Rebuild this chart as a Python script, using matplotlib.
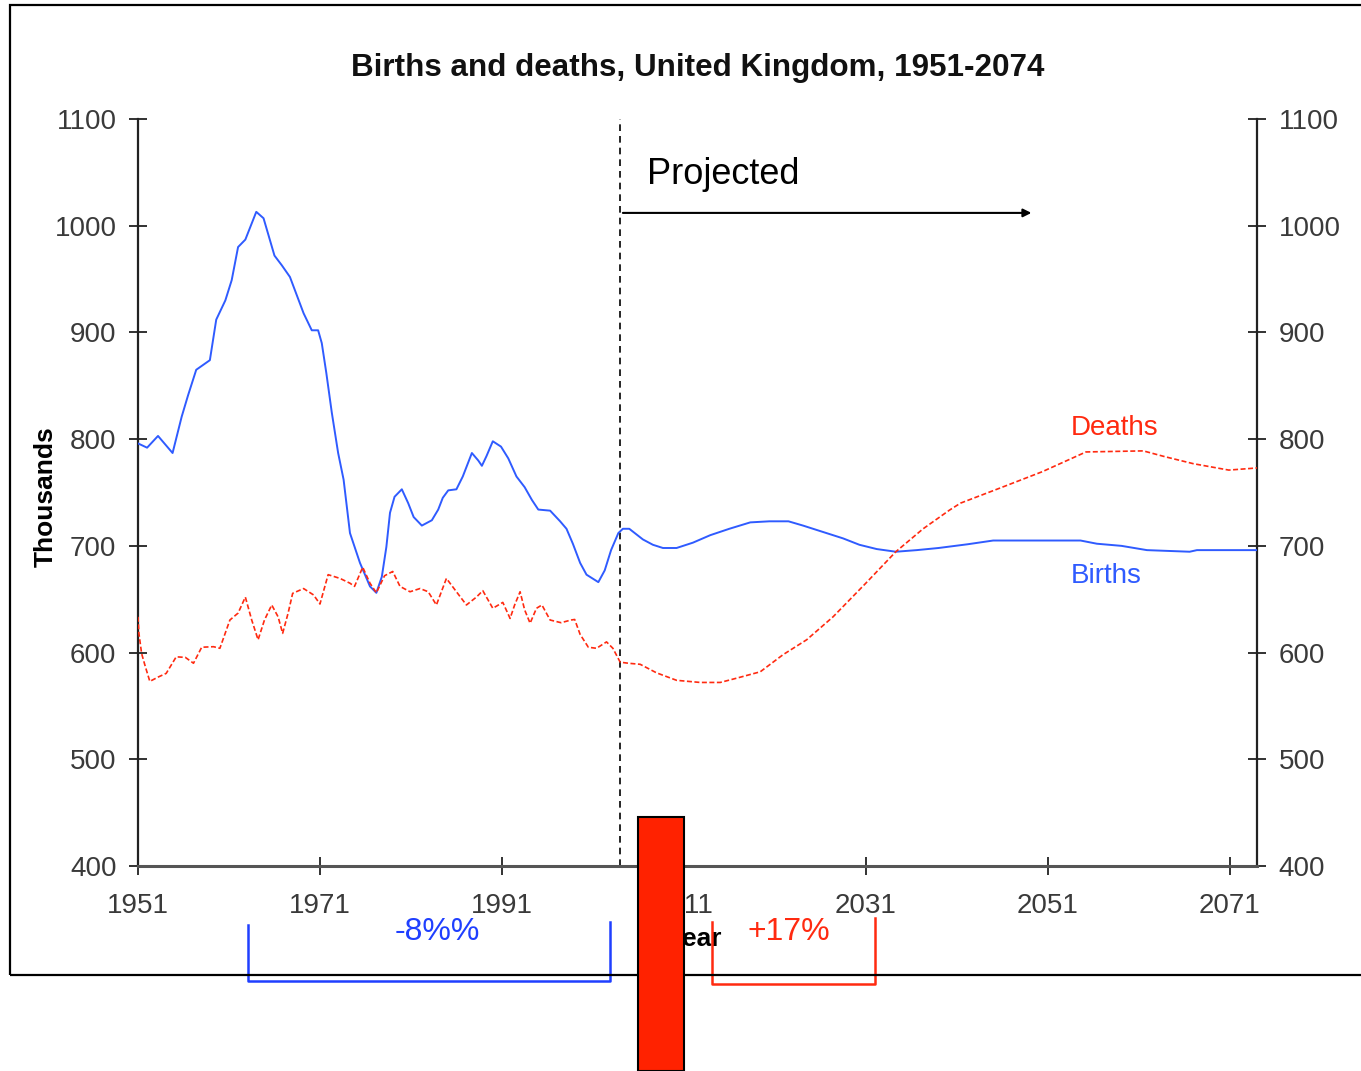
import matplotlib
matplotlib.use("Agg")
import matplotlib.pyplot as plt
from matplotlib.patches import Rectangle

# births (thousands)
birth_years = [1951, 1952, 1953.2, 1954.8, 1955.8, 1956.5, 1957.4, 1958.9, 1959.6, 1960.6,
               1961.3, 1962, 1962.8, 1964, 1964.8, 1966, 1966.8, 1967.7, 1969.2, 1970.1,
               1970.8, 1971.2, 1971.7, 1972.3, 1973, 1973.6, 1974.3, 1975.4, 1976.5, 1977.2,
               1977.8, 1978.3, 1978.7, 1979.2, 1980, 1980.7, 1981.3, 1982.2, 1983.3, 1984,
               1984.5, 1985.1, 1986, 1986.7, 1987.7, 1988.4, 1988.8, 1989.3, 1990, 1990.9,
               1991.7, 1992.6, 1993.5, 1994.3, 1995, 1996.3, 1997.4, 1998.1, 1998.8, 1999.6,
               2000.3, 2001.6, 2002.3, 2003, 2003.8, 2004.3, 2005, 2006.5, 2007.6, 2008.7,
               2010.2, 2012, 2013.9, 2016, 2018.3, 2020.4, 2022.5, 2024.1, 2026.3, 2028.5,
               2030.3, 2032.2, 2034.3, 2036.6, 2039, 2042.2, 2045, 2051.3, 2054.6, 2056.4,
               2059.1, 2061.9, 2066.6, 2067.4, 2074]
births = [796, 792, 803, 787, 821, 841, 865, 874, 912, 930,
          949, 980, 987, 1013, 1007, 972, 963, 952, 918, 902,
          902, 890, 862, 825, 787, 762, 712, 684, 662, 656,
          671, 699, 731, 746, 753, 740, 727, 719, 724, 734,
          745, 752, 753, 765, 787, 780, 775, 784, 798, 793,
          782, 765, 755, 743, 734, 733, 723, 716, 702, 684,
          673, 666, 677, 696, 712, 716, 716, 706, 701, 698,
          698, 703, 710, 716, 722, 723, 723, 719, 713, 707,
          701, 697, 694.5, 696, 698, 701.5, 705, 705, 705, 702,
          700, 696, 694.5, 696, 696]

# deaths (thousands)
death_years = [1951, 1951.1, 1951.4, 1951.8, 1952.3, 1953.2, 1954.1, 1955.2, 1956.2, 1957.1,
               1958, 1959.3, 1960, 1961.1, 1962, 1962.8, 1963.5, 1964.2, 1964.9, 1965.7,
               1966.4, 1966.9, 1967.5, 1968, 1969.2, 1970.3, 1971, 1971.9, 1973.2, 1974.3,
               1974.8, 1975.7, 1976.5, 1977.2, 1978.1, 1979, 1979.8, 1980.9, 1982, 1982.9,
               1983.8, 1984.9, 1986, 1987.1, 1988.2, 1988.9, 1990, 1991.1, 1991.9, 1992.4,
               1993, 1993.5, 1994.1, 1994.8, 1995.4, 1996.3, 1997.5, 1998.6, 1999, 1999.6,
               2000.5, 2001.4, 2002.5, 2003.2, 2004, 2004.9, 2006.2, 2008, 2010.2, 2012.8,
               2015, 2016.8, 2019.4, 2021.9, 2024.5, 2027.4, 2031, 2034.3, 2037.3, 2040.2,
               2041.4, 2045.7, 2050.4, 2055.2, 2061.5, 2063.9, 2067, 2070.9, 2074]
deaths = [633.5, 618, 599, 587, 573, 577, 580.5, 596, 595.5, 590,
          605, 605.5, 604, 630.5, 637, 652, 630.5, 612, 630.5, 644.6,
          633.5, 618, 637, 655.5, 660, 654, 645.5, 673, 669.5, 665,
          662, 680, 665, 656, 672, 676, 662, 657, 660, 657,
          644.6, 669.5, 657, 644.6, 652, 658, 641.5, 647, 632, 644.6,
          657, 640, 627.5, 641.5, 644.6, 630.5, 628, 630.5, 631, 617,
          605, 604, 610, 604, 591, 590, 589, 581, 574, 572,
          572, 576, 582, 598, 612, 633.5, 665, 694.5, 716, 733.5,
          740, 754, 769.5, 788, 789, 783.5, 777, 771, 773]

year_ticks = [1951, 1971, 1991, 2011, 2031, 2051, 2071]
value_ticks = [400, 500, 600, 700, 800, 900, 1000, 1100]
projection_start = 2004
arrow_span = (2004.3, 2049.2)
arrow_level = 1012
birth_change_span = (1963.1, 2002.9)
death_change_span = (2014.1, 2032.0)

ARIAL = ["Liberation Sans", "DejaVu Sans"]
BLUE = "#2f5bff"
RED = "#ff2a10"
TICKGREY = "#3a3a3a"

fig = plt.figure(figsize=(13.61, 10.71), dpi=100)
fig.patch.set_facecolor("white")
ax = fig.add_axes([138 / 1361, 1 - 866 / 1071, (1257 - 138) / 1361, (866 - 119) / 1071])

ax.plot(birth_years, births, color=BLUE, lw=1.4, zorder=3)
ax.plot(death_years, deaths, color=RED, lw=1.2, dashes=(3, 1.5), zorder=3)

ax.set_xlim(1951, 2074)
ax.set_ylim(400, 1100)
ax.set_xticks(year_ticks)
ax.set_yticks(value_ticks)
ax.tick_params(axis="both", direction="inout", length=13, width=1.3, colors="#222222",
               labelcolor=TICKGREY, labelsize=20)
ax.tick_params(axis="y", right=True, labelright=True, pad=9)
ax.tick_params(axis="x", pad=13)
for lab in ax.get_xticklabels() + ax.get_yticklabels():
    lab.set_family(ARIAL)
for t in ax.yaxis.get_major_ticks():
    t.label2.set_family(ARIAL)
    t.label2.set_color(TICKGREY)

ax.spines["top"].set_visible(False)
for s in ["left", "right"]:
    ax.spines[s].set_linewidth(1.6)
    ax.spines[s].set_color("#222222")
ax.spines["bottom"].set_linewidth(2.2)
ax.spines["bottom"].set_color("#555555")

ax.set_ylabel("Thousands", fontsize=19, fontweight="bold", family=ARIAL)
ax.yaxis.set_label_coords(-0.072, 0.494)
ax.set_xlabel("Year", fontsize=19, fontweight="bold", family=ARIAL)
ax.xaxis.set_label_coords(0.497, -0.082)

ax.set_title("Births and deaths, United Kingdom, 1951-2074", fontsize=22.6, fontweight="bold",
             family=ARIAL, color="#111111", pad=31)

# projection marker
ax.axvline(projection_start, color="black", lw=1.2, dashes=(4, 3), zorder=2)
ax.annotate("", xy=(arrow_span[1], arrow_level), xytext=(arrow_span[0], arrow_level),
            arrowprops=dict(arrowstyle="-|>", color="black", lw=1.5, mutation_scale=12,
                            shrinkA=0, shrinkB=0))
ax.text(2006.9, 1048, "Projected", fontsize=26, family=ARIAL, va="center", ha="left")

ax.text(2053.5, 810.5, "Deaths", color=RED, fontsize=20, family=ARIAL, va="center", ha="left")
ax.text(2053.5, 671.8, "Births", color=BLUE, fontsize=20, family=ARIAL, va="center", ha="left")

# change brackets under the axis
tr = ax.get_xaxis_transform()
b0, b1 = birth_change_span
ax.plot([b0, b0, b1, b1], [-0.079, -0.154, -0.154, -0.075], color="#1f3fff", lw=1.8,
        transform=tr, clip_on=False)
ax.text((b0 + b1) / 2 + 0.85, -0.089, "-8%%", color="#1f3fff", fontsize=23, family=ARIAL,
        ha="center", va="center", transform=tr)
d0, d1 = death_change_span
ax.plot([d0, d0, d1, d1], [-0.075, -0.158, -0.158, -0.070], color=RED, lw=1.8,
        transform=tr, clip_on=False)
ax.text(2017.95, -0.089, "+17%", color=RED, fontsize=23, family=ARIAL,
        ha="left", va="center", transform=tr)

# outer frame and the red bar overlay
fig.add_artist(Rectangle((10 / 1361, 1 - 975 / 1071), 1.0, (975 - 5) / 1071, fill=False,
                         edgecolor="black", lw=1.6, transform=fig.transFigure, zorder=0.5))
fig.add_artist(Rectangle((638 / 1361, 0), 46 / 1361, (1071 - 817) / 1071, facecolor="#ff2200",
                         edgecolor="black", lw=1.5, transform=fig.transFigure, zorder=5))

plt.savefig("out.png", dpi=100)
